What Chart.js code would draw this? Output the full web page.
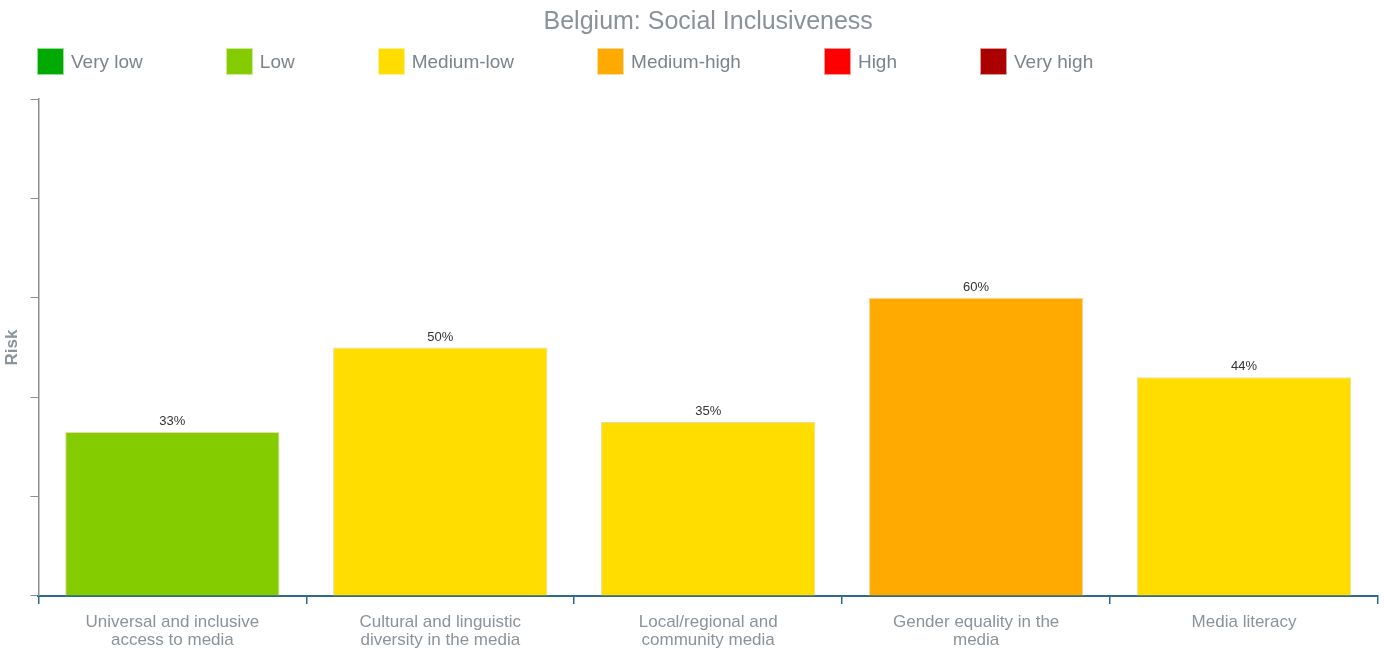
<!DOCTYPE html>
<html>
<head>
<meta charset="utf-8">
<title>Belgium: Social Inclusiveness</title>
<script src="https://cdn.jsdelivr.net/npm/chart.js@4/dist/chart.umd.min.js"></script>
<style>
  html, body { margin: 0; padding: 0; background: #fff; }
  .wrap { position: relative; width: 1384px; height: 649px; }
  #legend {
    position: absolute; top: 48px; left: 37px;
    display: flex; align-items: center;
    font-family: Arial, "Liberation Sans", sans-serif; font-size: 19px; color: #7b848c;
  }
  #legend .item { display: flex; align-items: center; margin-right: 83px; }
  #legend .box { width: 27px; height: 27px; box-sizing: border-box; border: 1px solid rgba(255,255,255,0.6); margin-right: 7px; }
</style>
</head>
<body>
<div class="wrap">
  <canvas id="riskChart" width="1384" height="649"></canvas>
  <div id="legend"></div>
</div>
<script>
// chart data
const categories = [
  ['Universal and inclusive', 'access to media'],
  ['Cultural and linguistic', 'diversity in the media'],
  ['Local/regional and', 'community media'],
  ['Gender equality in the', 'media'],
  'Media literacy'
]
const riskValues = [33, 50, 35, 60, 44]
const riskLevels = [1, 2, 2, 3, 2] // index into levelNames
const levelNames = ['Very low', 'Low', 'Medium-low', 'Medium-high', 'High', 'Very high']
const levelColors = ['#00aa00', '#84cc00', '#ffdd00', '#ffaa00', '#ff0000', '#aa0000']
const yTicks = [0, 20, 40, 60, 80, 100]

Chart.defaults.font.family = 'Arial, "Liberation Sans", sans-serif'

// html legend
const legendEl = document.getElementById('legend')
levelNames.forEach((name, i) => {
  const item = document.createElement('div')
  item.className = 'item'
  item.innerHTML = `<span class="box" style="background:${levelColors[i]}"></span><span>${name}</span>`
  legendEl.appendChild(item)
})

// percent labels above bars
const valueLabels = {
  id: 'valueLabels',
  afterDatasetsDraw(chart) {
    const { ctx } = chart
    const meta = chart.getDatasetMeta(0)
    ctx.save()
    ctx.font = '13px Arial, "Liberation Sans", sans-serif'
    ctx.fillStyle = '#333'
    ctx.textAlign = 'center'
    ctx.textBaseline = 'bottom'
    meta.data.forEach((bar, i) => {
      ctx.fillText(riskValues[i] + '%', bar.x, bar.y - 4)
    })
    ctx.restore()
  }
}

const ctx = document.getElementById('riskChart').getContext('2d')

new Chart(ctx, {
  type: 'bar',
  data: {
    labels: categories,
    datasets: [
      {
        label: 'Risk',
        data: riskValues,
        backgroundColor: riskLevels.map(l => levelColors[l]),
        borderColor: '#e6dca6',
        borderWidth: 1,
        barPercentage: 0.8,
        categoryPercentage: 1
      }
    ]
  },
  options: {
    responsive: false,
    animation: false,
    layout: { padding: { left: 0, right: 6, top: 0, bottom: -9 } },
    scales: {
      x: {
        grid: { display: true, offset: true, drawOnChartArea: false, tickLength: 8, color: '#2e6a8a', lineWidth: 1.5 },
        border: { display: true, color: '#2e6a8a', width: 2 },
        ticks: { color: '#8a9399', font: { size: 17, lineHeight: 1.06 }, padding: 9, maxRotation: 0, autoSkip: false }
      },
      y: {
        min: 0,
        max: 100,
        afterBuildTicks: axis => { axis.ticks = yTicks.map(v => ({ value: v })) },
        grid: { display: true, drawOnChartArea: false, tickLength: 8, color: '#8a9096' },
        border: { display: true, color: '#8a9096', width: 1.5 },
        ticks: { display: false },
        title: {
          display: true,
          text: 'Risk',
          color: '#8a9399',
          font: { size: 17, weight: 'bold' },
          padding: { top: 2, bottom: 8 }
        }
      }
    },
    plugins: {
      legend: { display: false },
      tooltip: { enabled: false },
      title: {
        display: true,
        fullSize: false,
        text: 'Belgium: Social Inclusiveness',
        color: '#8a9299',
        font: { size: 25, weight: 'normal' },
        padding: { top: 7, bottom: 62 }
      }
    }
  },
  plugins: [valueLabels]
})
</script>
</body>
</html>
